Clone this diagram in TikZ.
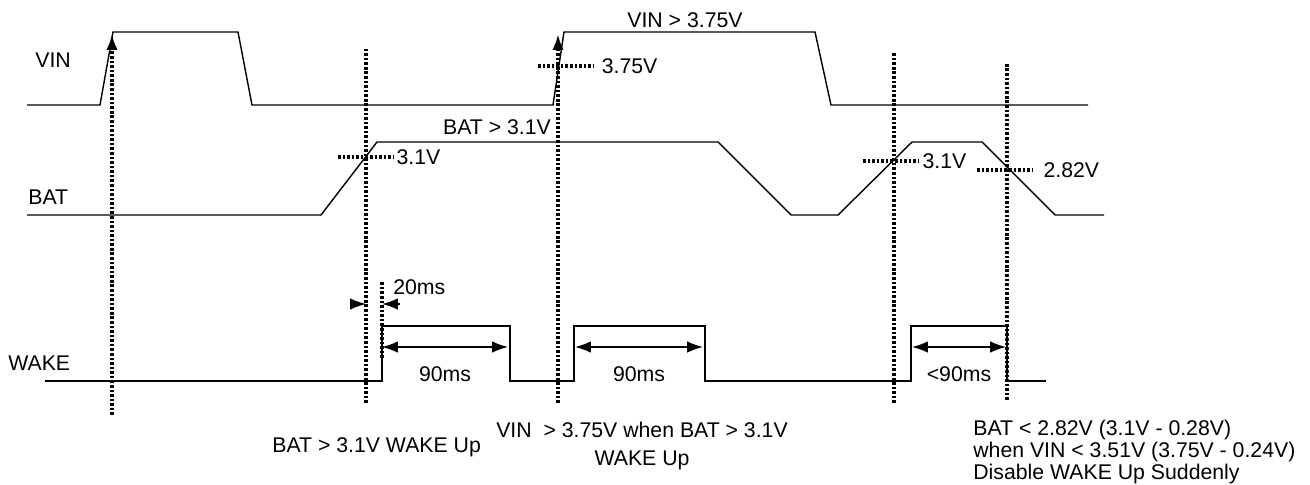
\documentclass[tikz,border=0pt]{standalone}
\usepackage{fontspec}
\setmainfont{Liberation Sans}
\usepackage{tikz}
\usetikzlibrary{arrows.meta,positioning}

\begin{document}
\begin{tikzpicture}[>={Latex[length=9pt,width=6.5pt]}, x=0.02cm, y=-0.02cm,
        sig/.style={line width=0.8pt},
        guide/.style={line width=2pt, dash pattern=on 1.5pt off 1.1pt},
        txt/.style={font=\fontsize{12.1}{14.5}\selectfont, inner sep=0pt}]
        \useasboundingbox (0,0) rectangle (1310,484);
        \path 
        (112,415) coordinate (t1b)  (112,34) coordinate (t1t)
        (366,403) coordinate (t2b)  (366,49) coordinate (t2t)
        (558,403) coordinate (t3b)  (558,34) coordinate (t3t)
        (894,403) coordinate (t4b)  (894,52) coordinate (t4t)
        (1007,400) coordinate (t5b) (1007,62) coordinate (t5t)
        (382,358) coordinate (d1b)  (382,282) coordinate (d1t)
        ;
        
        % signal names
        \draw 
        (35,60) node[txt, anchor=west] (vin) {VIN}
        (28,197) node[txt, anchor=west] (bat) {BAT}
        (8,363) node[txt, anchor=west] (wake) {WAKE}
        ;
        
        % waveforms
        \draw[sig] (27,105) -- (100,105) -- (113,32) -- (238,32) -- (252,105) -- (553,105)
                -- (564,32) -- (815,32) -- (831,105) -- (1088,105);
        \draw[sig] (27,215) -- (321,215) -- (377,142) -- (718,142) -- (791,215) -- (838,215)
                -- (912,142) -- (982,142) -- (1055,215) -- (1104,215);
        \draw[sig] (45,381) -- (382,381) -- (382,326) -- (510,326) -- (510,381) -- (574,381)
                -- (574,326) -- (705,326) -- (705,381) -- (911,381) -- (911,326) -- (1007,326)
                -- (1007,381) -- (1046,381);
        
        % event lines
        \draw[guide,->] (t1b) -- (t1t);
        \draw[guide] (t2b) -- (t2t);
        \draw[guide,->] (t3b) -- (t3t);
        \draw[guide] (t4b) -- (t4t);
        \draw[guide] (t5b) -- (t5t);
        \draw[guide] (d1b) -- (d1t);
        
        % thresholds
        \draw[guide] (338,157) -- (393,157) node[txt, anchor=west, right=1pt] (th1) {3.1V};
        \draw[guide] (538,66) -- (593,66) node[txt, anchor=west, right=4pt] (th2) {3.75V};
        \draw[guide] (863,161) -- (919,161) node[txt, anchor=west, right=1pt] (th3) {3.1V};
        \draw[guide] (977,170) -- (1033,170) node[txt, anchor=west, right=5pt] (th4) {2.82V};
        
        \node[txt] (vhigh) at (685,20) {VIN > 3.75V};
        \node[txt] (bhigh) at (497,127) {BAT > 3.1V};
        
        % timings
        \draw[sig,->] (350,304) -- (t2t |- 0,304);
        \draw[sig,->] (400,304) -- (d1t |- 0,304);
        \node[txt, anchor=west] (dly) at (393,287) {20ms};
        \draw[sig,<->] (382,347) -- node[txt, below=11pt] (w1) {90ms} (508,347);
        \draw[sig,<->] (575,347) -- node[txt, below=11pt] (w2) {90ms} (703,347);
        \draw[sig,<->] (912,347) -- node[txt, below=11pt] (w3) {<90ms} (1006,347);
        
        % notes
        \node[txt, anchor=west] (n1) at (272,447) {BAT > 3.1V WAKE Up};
        \node[txt, align=center, font=\fontsize{12.1}{15.4}\selectfont] (n2) at (642,446)
                {VIN\ \ > 3.75V when BAT > 3.1V\\WAKE Up};
        \node[txt, align=left, anchor=west, font=\fontsize{12.1}{12.5}\selectfont] (n3) at (973,452)
                {BAT < 2.82V (3.1V - 0.28V)\\when VIN < 3.51V (3.75V - 0.24V)\\Disable WAKE Up Suddenly};
\end{tikzpicture}
\end{document}
